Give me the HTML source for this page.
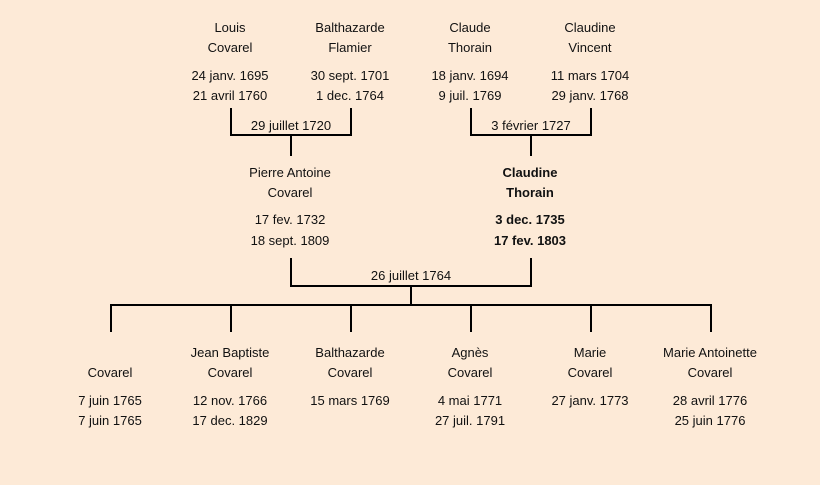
<!DOCTYPE html>
<html><head><meta charset="utf-8"><style>
html,body{margin:0;padding:0;background:#fdead7;}
svg{display:block}
text{font-family:"Liberation Sans",sans-serif;font-size:13px;fill:#111;text-anchor:middle}
.b{font-weight:bold}
</style></head><body>
<svg width="820" height="485" xmlns="http://www.w3.org/2000/svg">
<rect width="820" height="485" fill="#fdead7"/>
<g stroke="#000" stroke-width="2" fill="none">
<path d="M231 108V135H351V108M291 135V156"/>
<path d="M471 108V135H591V108M531 135V156"/>
<path d="M291 258V286H531V258M411 286V305"/>
<path d="M111 332V305H711V332M231 305V332M351 305V332M471 305V332M591 305V332"/>
</g>
<text x="230" y="32">Louis</text><text x="230" y="52">Covarel</text><text x="230" y="80">24 janv. 1695</text><text x="230" y="100">21 avril 1760</text>
<text x="350" y="32">Balthazarde</text><text x="350" y="52">Flamier</text><text x="350" y="80">30 sept. 1701</text><text x="350" y="100">1 dec. 1764</text>
<text x="470" y="32">Claude</text><text x="470" y="52">Thorain</text><text x="470" y="80">18 janv. 1694</text><text x="470" y="100">9 juil. 1769</text>
<text x="590" y="32">Claudine</text><text x="590" y="52">Vincent</text><text x="590" y="80">11 mars 1704</text><text x="590" y="100">29 janv. 1768</text>
<text x="291" y="130">29 juillet 1720</text>
<text x="531" y="130">3 février 1727</text>
<text x="290" y="177">Pierre Antoine</text><text x="290" y="197">Covarel</text><text x="290" y="224">17 fev. 1732</text><text x="290" y="245">18 sept. 1809</text>
<text class="b" x="530" y="177">Claudine</text><text class="b" x="530" y="197">Thorain</text><text class="b" x="530" y="224">3 dec. 1735</text><text class="b" x="530" y="245">17 fev. 1803</text>
<text x="411" y="280">26 juillet 1764</text>
<text x="110" y="377">Covarel</text><text x="110" y="405">7 juin 1765</text><text x="110" y="425">7 juin 1765</text>
<text x="230" y="357">Jean Baptiste</text><text x="230" y="377">Covarel</text><text x="230" y="405">12 nov. 1766</text><text x="230" y="425">17 dec. 1829</text>
<text x="350" y="357">Balthazarde</text><text x="350" y="377">Covarel</text><text x="350" y="405">15 mars 1769</text>
<text x="470" y="357">Agnès</text><text x="470" y="377">Covarel</text><text x="470" y="405">4 mai 1771</text><text x="470" y="425">27 juil. 1791</text>
<text x="590" y="357">Marie</text><text x="590" y="377">Covarel</text><text x="590" y="405">27 janv. 1773</text>
<text x="710" y="357">Marie Antoinette</text><text x="710" y="377">Covarel</text><text x="710" y="405">28 avril 1776</text><text x="710" y="425">25 juin 1776</text>
</svg>
</body></html>
